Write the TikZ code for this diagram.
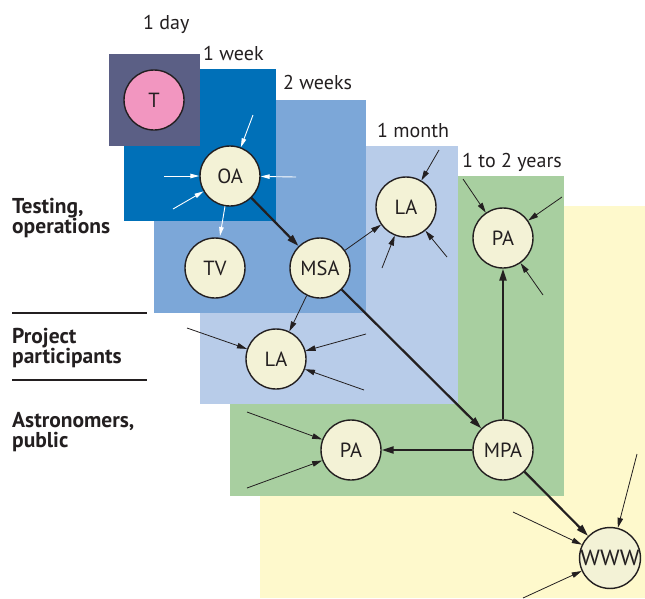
\documentclass[tikz,border=0pt]{standalone}
\usepackage{fontspec}
\setmainfont{PT Sans}
\usetikzlibrary{arrows.meta}
\definecolor{ink}{HTML}{231F20}
\definecolor{daybg}{HTML}{5B5F85}
\definecolor{weekbg}{HTML}{0070B8}
\definecolor{twoweekbg}{HTML}{7CA7D8}
\definecolor{monthbg}{HTML}{B8CCE9}
\definecolor{greenbg}{HTML}{A8CFA0}
\definecolor{yellowbg}{HTML}{FEF9CC}
\definecolor{cream}{HTML}{F3F2D6}
\definecolor{pinkfill}{HTML}{F296C0}
\begin{document}
\begin{tikzpicture}[x=1pt,y=-1pt,
  circ/.style={circle, draw=ink, line width=1.4pt, fill=cream, minimum size=60pt, inner sep=0pt, text=ink, font=\fontsize{20.5}{20.5}\selectfont},
  bigedge/.style={line width=2.2pt, draw=ink, -{Triangle[length=12pt,width=7pt]}},
  smalledge/.style={line width=0.8pt, draw=ink, -{Triangle[length=10pt,width=5.5pt]}},
  whiteedge/.style={line width=0.9pt, draw=white, -{Triangle[length=9pt,width=4.5pt]}},
  period/.style={anchor=base west, inner sep=0pt, text=ink, font=\fontsize{20}{20}\selectfont},
  side/.style={anchor=base west, inner sep=0pt, text=ink, font=\fontsize{21.5}{21.5}\selectfont\bfseries},
  rule/.style={line width=1.6pt, draw=ink}]
\useasboundingbox (0,0) rectangle (645,598);
% period boxes, back to front
\fill[yellowbg] (260,206) rectangle (645,598);
\fill[greenbg] (230,176) rectangle (564,496);
\fill[monthbg] (200,146) rectangle (458,404);
\fill[twoweekbg] (154,100) rectangle (366,313);
\fill[weekbg] (124,69) rectangle (276,221);
\fill[daybg] (109,54) rectangle (200,146);
% period labels
\node[period] (l1) at (143,29) {1 day};
\node[period] (l2) at (203,60) {1 week};
\node[period] (l3) at (283,89) {2 weeks};
\node[period] (l4) at (377,137) {1 month};
\node[period] (l5) at (462,167) {1 to 2 years};
% side labels
\node[side] (s1) at (12,213) {Testing,};
\node[side] (s2) at (12,233) {operations};
\node[side] (s3) at (12,343) {Project};
\node[side] (s4) at (12,363) {participants};
\node[side] (s5) at (12,427) {Astronomers,};
\node[side] (s6) at (12,447) {public};
\draw[rule] (12,313) -- (147,313);
\draw[rule] (12,380) -- (147,380);
% circles
\node[circ, fill=pinkfill] (T) at (154,100) {T};
\node[circ] (OA) at (230,176) {OA};
\node[circ] (TV) at (215,268) {TV};
\node[circ] (MSA) at (320,268) {MSA};
\node[circ] (LA1) at (406,207) {LA};
\node[circ] (PA1) at (503,238) {PA};
\node[circ] (LA2) at (276,359) {LA};
\node[circ] (PA2) at (351,450) {PA};
\node[circ] (MPA) at (503,450) {MPA};
\node[circ, font=\fontsize{22}{22}\selectfont] (WWW) at (610,558) {\scalebox{1.08}[1]{WWW}};
% free ends
\coordinate (a1) at (439,150);
\coordinate (a2) at (382,268);
\coordinate (a3) at (447,257);
\coordinate (b1) at (463,179);
\coordinate (b2) at (562,197);
\coordinate (b3) at (543,295);
\coordinate (c1) at (187,328);
\coordinate (c2) at (366,334);
\coordinate (c3) at (364,390);
\coordinate (d1) at (247,412);
\coordinate (d2) at (247,488);
\coordinate (e1) at (637,454);
\coordinate (e2) at (513,512);
\coordinate (e3) at (523,598);
\coordinate (w1) at (253,115);
\coordinate (w2) at (164,176);
\coordinate (w3) at (296,177);
\coordinate (w4) at (173,209);
\coordinate (w5) at (220,236);
% main flow
\draw[bigedge] (OA) -- (MSA);
\draw[bigedge] (MSA) -- (MPA);
\draw[bigedge] (MPA) -- (PA1);
\draw[bigedge] (MPA) -- (PA2);
\draw[bigedge] (MPA) -- (WWW);
\draw[smalledge] (MSA) -- (LA1);
\draw[smalledge] (MSA) -- (LA2);
% incoming thin arrows
\foreach \c in {a1,a2,a3} \draw[smalledge] (\c) -- (LA1);
\foreach \c in {b1,b2,b3} \draw[smalledge] (\c) -- (PA1);
\foreach \c in {c1,c2,c3} \draw[smalledge] (\c) -- (LA2);
\foreach \c in {d1,d2} \draw[smalledge] (\c) -- (PA2);
\foreach \c in {e1,e2,e3} \draw[smalledge] (\c) -- (WWW);
% white arrows at OA
\foreach \c in {w1,w2,w3,w4} \draw[whiteedge] (\c) -- (OA);
\draw[whiteedge] (OA) -- (w5);
\end{tikzpicture}
\end{document}
